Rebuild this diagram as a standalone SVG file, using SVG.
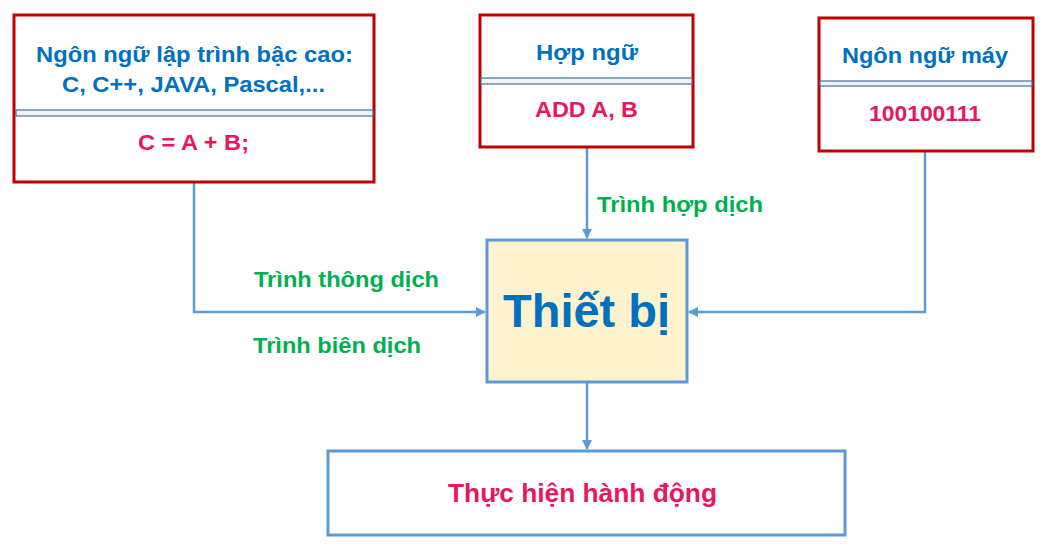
<svg xmlns="http://www.w3.org/2000/svg" width="1050" height="555" viewBox="0 0 1050 555">
<defs>
<style>
.box{fill:#fff;stroke:#C00000;stroke-width:3}
.band{fill:#F2F2F2;stroke:#41719C;stroke-width:1.2}
.t{font-family:"Liberation Sans",Arial,sans-serif;font-weight:bold}
.h{fill:#0070C0;font-size:22px}
.r{fill:#E8175D;font-size:22px}
.g{fill:#00B050;font-size:22px}
.con{fill:none;stroke:#5B9BD5;stroke-width:2.5}
</style>
<marker id="ar" viewBox="0 0 10 10" refX="9" refY="5" markerWidth="4" markerHeight="4" orient="auto" markerUnits="strokeWidth">
<path d="M0,0 L10,5 L0,10 z" fill="#5B9BD5"/>
</marker>
</defs>
<rect width="1050" height="555" fill="#fff"/>
<g id="connectors">
<polyline class="con" points="194,182 194,312 485,312" marker-end="url(#ar)"/>
<polyline class="con" points="587,147 587,238" marker-end="url(#ar)"/>
<polyline class="con" points="925,151 925,312 689,312" marker-end="url(#ar)"/>
<polyline class="con" points="587,382 587,449" marker-end="url(#ar)"/>
</g>
<g id="node-highlevel">
<rect class="box" x="14" y="15" width="360" height="167"/>
<rect class="band" x="16" y="110" width="357" height="6"/>
<text class="t h" x="36" y="62" textLength="317" lengthAdjust="spacingAndGlyphs">Ngôn ngữ lập trình bậc cao:</text>
<text class="t h" x="62" y="92" textLength="263" lengthAdjust="spacingAndGlyphs">C, C++, JAVA, Pascal,...</text>
<text class="t r" x="138" y="150" textLength="111" lengthAdjust="spacingAndGlyphs">C = A + B;</text>
</g>
<g id="node-assembly">
<rect class="box" x="480" y="15" width="213" height="132"/>
<rect class="band" x="481" y="78" width="211" height="6"/>
<text class="t h" x="536" y="60" textLength="102" lengthAdjust="spacingAndGlyphs">Hợp ngữ</text>
<text class="t r" x="535" y="117" textLength="103" lengthAdjust="spacingAndGlyphs">ADD A, B</text>
</g>
<g id="node-machine">
<rect class="box" x="819" y="18" width="214" height="133"/>
<rect class="band" x="820" y="81" width="212" height="5"/>
<text class="t h" x="842" y="63" textLength="166" lengthAdjust="spacingAndGlyphs">Ngôn ngữ máy</text>
<text class="t r" x="869" y="121" textLength="112" lengthAdjust="spacingAndGlyphs">100100111</text>
</g>
<g id="node-device">
<rect x="487" y="240" width="200" height="142" fill="#FFF2CC" stroke="#5B9BD5" stroke-width="3"/>
<text class="t" x="503" y="327" fill="#0070C0" font-size="46" textLength="167" lengthAdjust="spacingAndGlyphs">Thiết bị</text>
</g>
<g id="node-action">
<rect x="328" y="451" width="517" height="84" fill="#fff" stroke="#5B9BD5" stroke-width="3"/>
<text class="t r" x="448" y="502" style="font-size:25px" textLength="269" lengthAdjust="spacingAndGlyphs">Thực hiện hành động</text>
</g>
<g id="labels">
<text class="t g" x="597" y="212" textLength="166" lengthAdjust="spacingAndGlyphs">Trình hợp dịch</text>
<text class="t g" x="254" y="287" textLength="185" lengthAdjust="spacingAndGlyphs">Trình thông dịch</text>
<text class="t g" x="253" y="353" textLength="168" lengthAdjust="spacingAndGlyphs">Trình biên dịch</text>
</g>
</svg>
